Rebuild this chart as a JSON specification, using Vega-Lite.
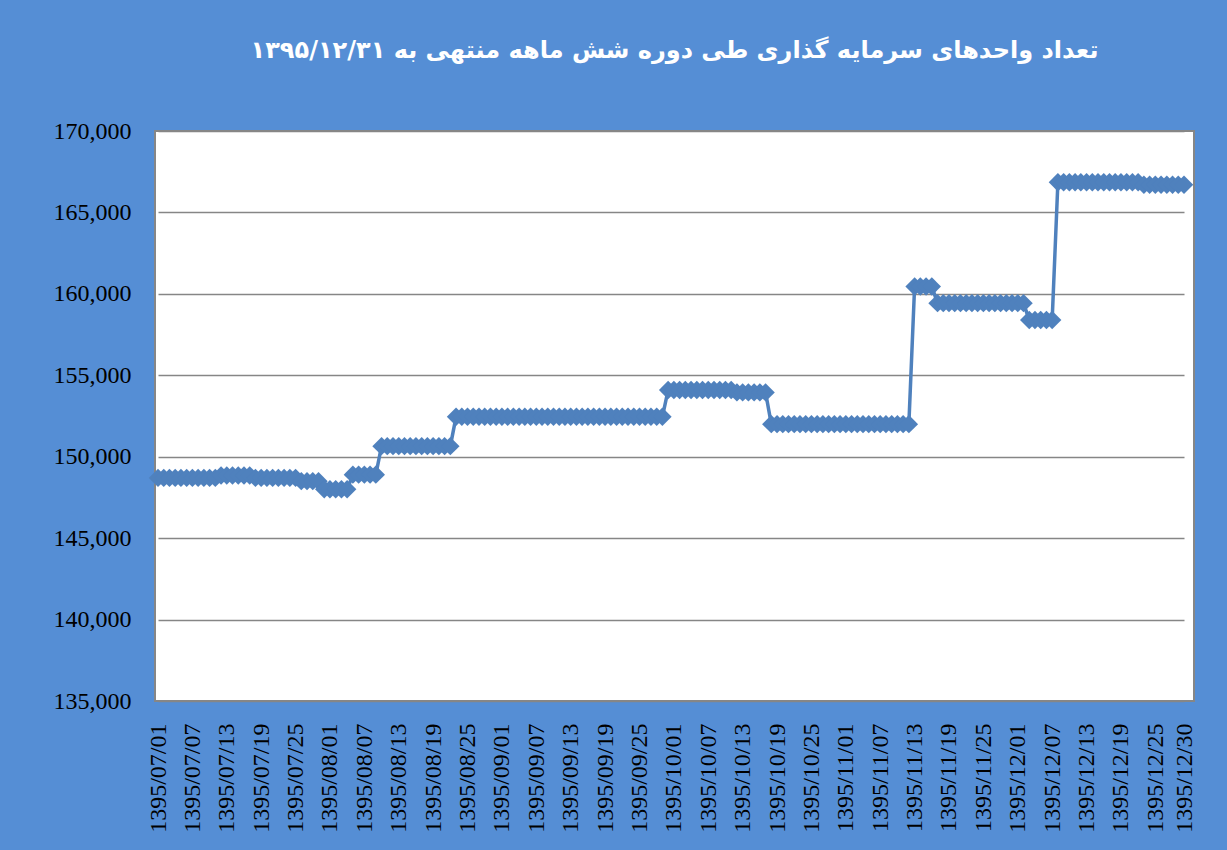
{
"$schema": "https://vega.github.io/schema/vega-lite/v6.json",
"width": 1039, "height": 570,
"autosize": {"type": "none"},
"padding": {"left": 155, "top": 131, "right": 33, "bottom": 149},
"background": "#558ED5",
"title": {"text": "تعداد واحدهای سرمایه گذاری طی دوره شش ماهه منتهی به ۱۳۹۵/۱۲/۳۱", "color": "white", "font": "DejaVu Sans", "fontSize": 24, "fontWeight": "bold", "anchor": "middle", "baseline": "bottom", "offset": 32},
"config": {"view": {"fill": "white", "stroke": "#868686", "strokeWidth": 2}},
"data": {"values": [
{"date":"1395/07/01","units":148700},{"date":"1395/07/02","units":148700},{"date":"1395/07/03","units":148700},{"date":"1395/07/04","units":148700},{"date":"1395/07/05","units":148700},{"date":"1395/07/06","units":148700},{"date":"1395/07/07","units":148700},{"date":"1395/07/08","units":148700},{"date":"1395/07/09","units":148700},{"date":"1395/07/10","units":148700},{"date":"1395/07/11","units":148700},
{"date":"1395/07/12","units":148850},{"date":"1395/07/13","units":148850},{"date":"1395/07/14","units":148850},{"date":"1395/07/15","units":148850},{"date":"1395/07/16","units":148850},{"date":"1395/07/17","units":148850},
{"date":"1395/07/18","units":148700},{"date":"1395/07/19","units":148700},{"date":"1395/07/20","units":148700},{"date":"1395/07/21","units":148700},{"date":"1395/07/22","units":148700},{"date":"1395/07/23","units":148700},{"date":"1395/07/24","units":148700},{"date":"1395/07/25","units":148700},
{"date":"1395/07/26","units":148500},{"date":"1395/07/27","units":148500},{"date":"1395/07/28","units":148500},{"date":"1395/07/29","units":148500},
{"date":"1395/07/30","units":148000},{"date":"1395/08/01","units":148000},{"date":"1395/08/02","units":148000},{"date":"1395/08/03","units":148000},{"date":"1395/08/04","units":148000},
{"date":"1395/08/05","units":148900},{"date":"1395/08/06","units":148900},{"date":"1395/08/07","units":148900},{"date":"1395/08/08","units":148900},{"date":"1395/08/09","units":148900},
{"date":"1395/08/10","units":150650},{"date":"1395/08/11","units":150650},{"date":"1395/08/12","units":150650},{"date":"1395/08/13","units":150650},{"date":"1395/08/14","units":150650},{"date":"1395/08/15","units":150650},{"date":"1395/08/16","units":150650},{"date":"1395/08/17","units":150650},{"date":"1395/08/18","units":150650},{"date":"1395/08/19","units":150650},{"date":"1395/08/20","units":150650},{"date":"1395/08/21","units":150650},{"date":"1395/08/22","units":150650},
{"date":"1395/08/23","units":152450},{"date":"1395/08/24","units":152450},{"date":"1395/08/25","units":152450},{"date":"1395/08/26","units":152450},{"date":"1395/08/27","units":152450},{"date":"1395/08/28","units":152450},{"date":"1395/08/29","units":152450},{"date":"1395/08/30","units":152450},
{"date":"1395/09/01","units":152450},{"date":"1395/09/02","units":152450},{"date":"1395/09/03","units":152450},{"date":"1395/09/04","units":152450},{"date":"1395/09/05","units":152450},{"date":"1395/09/06","units":152450},{"date":"1395/09/07","units":152450},{"date":"1395/09/08","units":152450},{"date":"1395/09/09","units":152450},{"date":"1395/09/10","units":152450},{"date":"1395/09/11","units":152450},{"date":"1395/09/12","units":152450},{"date":"1395/09/13","units":152450},{"date":"1395/09/14","units":152450},{"date":"1395/09/15","units":152450},{"date":"1395/09/16","units":152450},{"date":"1395/09/17","units":152450},{"date":"1395/09/18","units":152450},{"date":"1395/09/19","units":152450},{"date":"1395/09/20","units":152450},{"date":"1395/09/21","units":152450},{"date":"1395/09/22","units":152450},{"date":"1395/09/23","units":152450},{"date":"1395/09/24","units":152450},{"date":"1395/09/25","units":152450},{"date":"1395/09/26","units":152450},{"date":"1395/09/27","units":152450},{"date":"1395/09/28","units":152450},{"date":"1395/09/29","units":152450},
{"date":"1395/09/30","units":154100},{"date":"1395/10/01","units":154100},{"date":"1395/10/02","units":154100},{"date":"1395/10/03","units":154100},{"date":"1395/10/04","units":154100},{"date":"1395/10/05","units":154100},{"date":"1395/10/06","units":154100},{"date":"1395/10/07","units":154100},{"date":"1395/10/08","units":154100},{"date":"1395/10/09","units":154100},{"date":"1395/10/10","units":154100},{"date":"1395/10/11","units":154100},
{"date":"1395/10/12","units":153950},{"date":"1395/10/13","units":153950},{"date":"1395/10/14","units":153950},{"date":"1395/10/15","units":153950},{"date":"1395/10/16","units":153950},{"date":"1395/10/17","units":153950},
{"date":"1395/10/18","units":152000},{"date":"1395/10/19","units":152000},{"date":"1395/10/20","units":152000},{"date":"1395/10/21","units":152000},{"date":"1395/10/22","units":152000},{"date":"1395/10/23","units":152000},{"date":"1395/10/24","units":152000},{"date":"1395/10/25","units":152000},{"date":"1395/10/26","units":152000},{"date":"1395/10/27","units":152000},{"date":"1395/10/28","units":152000},{"date":"1395/10/29","units":152000},{"date":"1395/10/30","units":152000},
{"date":"1395/11/01","units":152000},{"date":"1395/11/02","units":152000},{"date":"1395/11/03","units":152000},{"date":"1395/11/04","units":152000},{"date":"1395/11/05","units":152000},{"date":"1395/11/06","units":152000},{"date":"1395/11/07","units":152000},{"date":"1395/11/08","units":152000},{"date":"1395/11/09","units":152000},{"date":"1395/11/10","units":152000},{"date":"1395/11/11","units":152000},{"date":"1395/11/12","units":152000},
{"date":"1395/11/13","units":160450},{"date":"1395/11/14","units":160450},{"date":"1395/11/15","units":160450},{"date":"1395/11/16","units":160450},
{"date":"1395/11/17","units":159430},{"date":"1395/11/18","units":159430},{"date":"1395/11/19","units":159430},{"date":"1395/11/20","units":159430},{"date":"1395/11/21","units":159430},{"date":"1395/11/22","units":159430},{"date":"1395/11/23","units":159430},{"date":"1395/11/24","units":159430},{"date":"1395/11/25","units":159430},{"date":"1395/11/26","units":159430},{"date":"1395/11/27","units":159430},{"date":"1395/11/28","units":159430},{"date":"1395/11/29","units":159430},{"date":"1395/11/30","units":159430},{"date":"1395/12/01","units":159430},{"date":"1395/12/02","units":159430},
{"date":"1395/12/03","units":158400},{"date":"1395/12/04","units":158400},{"date":"1395/12/05","units":158400},{"date":"1395/12/06","units":158400},{"date":"1395/12/07","units":158400},
{"date":"1395/12/08","units":166850},{"date":"1395/12/09","units":166850},{"date":"1395/12/10","units":166850},{"date":"1395/12/11","units":166850},{"date":"1395/12/12","units":166850},{"date":"1395/12/13","units":166850},{"date":"1395/12/14","units":166850},{"date":"1395/12/15","units":166850},{"date":"1395/12/16","units":166850},{"date":"1395/12/17","units":166850},{"date":"1395/12/18","units":166850},{"date":"1395/12/19","units":166850},{"date":"1395/12/20","units":166850},{"date":"1395/12/21","units":166850},{"date":"1395/12/22","units":166850},
{"date":"1395/12/23","units":166700},{"date":"1395/12/24","units":166700},{"date":"1395/12/25","units":166700},{"date":"1395/12/26","units":166700},{"date":"1395/12/27","units":166700},{"date":"1395/12/28","units":166700},{"date":"1395/12/29","units":166700},{"date":"1395/12/30","units":166700}
]},
"mark": {"type": "line", "color": "#4F81BD", "strokeWidth": 3.5, "point": {"shape": "diamond", "size": 340, "filled": true, "color": "#4F81BD", "opacity": 1}},
"encoding": {
"x": {"field": "date", "type": "ordinal", "sort": null,
 "scale": {"type": "point", "range": [3, 1029], "padding": 0},
 "axis": {"title": null, "values": ["1395/07/01","1395/07/07","1395/07/13","1395/07/19","1395/07/25","1395/08/01","1395/08/07","1395/08/13","1395/08/19","1395/08/25","1395/09/01","1395/09/07","1395/09/13","1395/09/19","1395/09/25","1395/10/01","1395/10/07","1395/10/13","1395/10/19","1395/10/25","1395/11/01","1395/11/07","1395/11/13","1395/11/19","1395/11/25","1395/12/01","1395/12/07","1395/12/13","1395/12/19","1395/12/25","1395/12/30"],
  "labelAngle": -90, "labelFont": "Liberation Serif, Times New Roman, serif", "labelFontSize": 24, "labelColor": "black", "labelPadding": 22, "ticks": false, "domain": false, "grid": false, "labelOverlap": false}},
"y": {"field": "units", "type": "quantitative",
 "scale": {"domain": [135000, 170000], "nice": false, "zero": false},
 "axis": {"title": null, "values": [135000,140000,145000,150000,155000,160000,165000,170000], "format": ",.0f", "labelFont": "Liberation Serif, Times New Roman, serif", "labelFontSize": 24, "labelColor": "black", "labelPadding": 24, "ticks": false, "domain": false, "grid": true, "gridColor": "#868686", "gridWidth": 1.5}}
}
}
